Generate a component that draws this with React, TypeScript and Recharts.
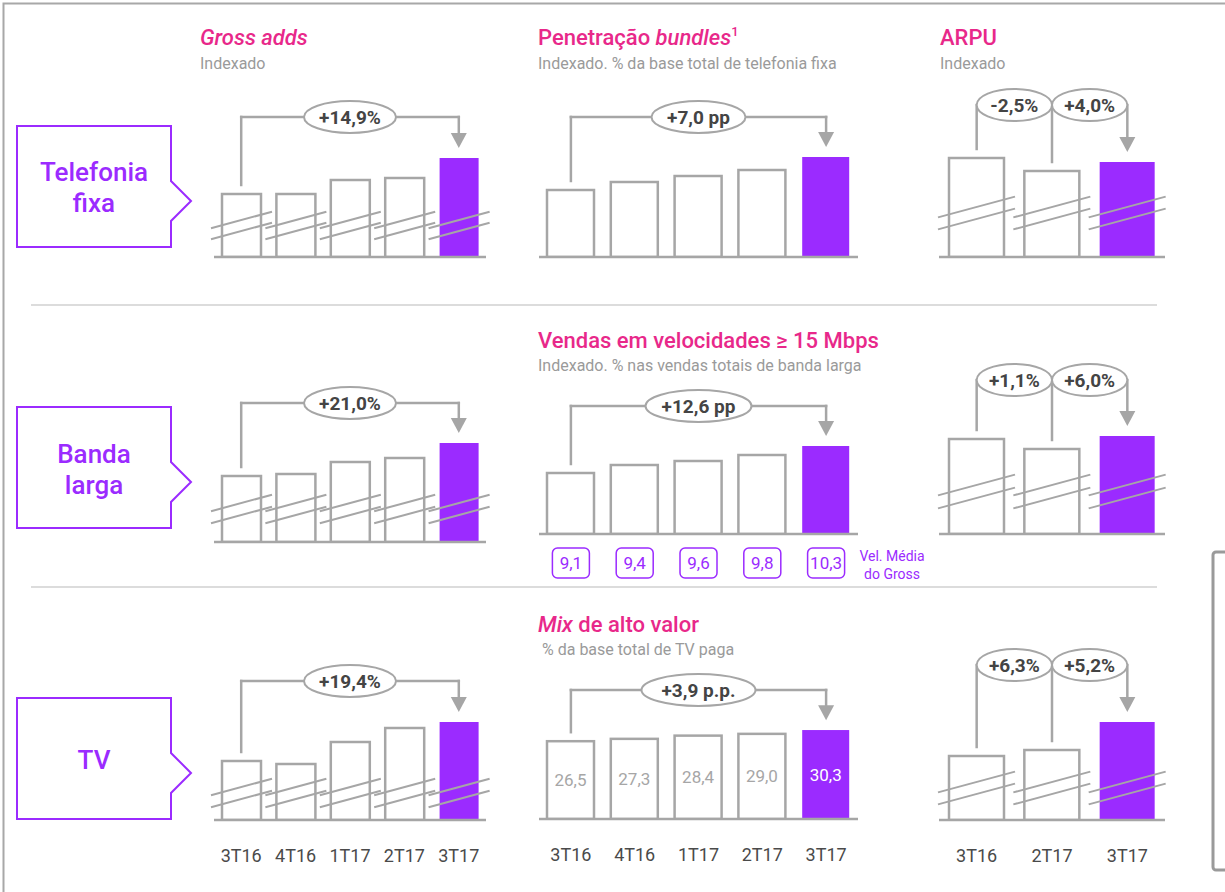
import React from "react";
import {
  BarChart,
  Bar,
  XAxis,
  YAxis,
  ReferenceLine,
  ReferenceDot,
  LabelList,
} from "recharts";

const PURPLE = "#9b2bff";
const PINK = "#e8288a";
const LINE_GRAY = "#a6a6a6";
const SUB_GRAY = "#9a9a9a";
const TEXT_DARK = "#444444";
const FONT = "Roboto, 'Noto Sans', sans-serif";

// categories
const quarters5 = ["3T16", "4T16", "1T17", "2T17", "3T17"];
const quarters3 = ["3T16", "2T17", "3T17"];

// Telefonia fixa (indexed heights)
const grossAddsFixa = [63, 63, 77, 79, 99];
const bundlesFixa = [67, 75, 81, 87, 100];
const arpuFixa = [99, 86, 95];

// Banda larga
const grossAddsBanda = [66, 68, 80, 84, 99];
const vendas15Mbps = [61, 69, 73, 79, 88];
const velMediaGross = [9.1, 9.4, 9.6, 9.8, 10.3];
const arpuBanda = [95, 85, 98];

// TV
const grossAddsTv = [59, 56, 78, 92, 98];
const mixAltoValor = [26.5, 27.3, 28.4, 29.0, 30.3];
const arpuTv = [64, 70, 98];

// variation labels
const grossAddsFixaDelta = ["+14,9%"];
const bundlesFixaDelta = ["+7,0 pp"];
const arpuFixaDeltas = ["-2,5%", "+4,0%"];
const grossAddsBandaDelta = ["+21,0%"];
const vendas15MbpsDelta = ["+12,6 pp"];
const arpuBandaDeltas = ["+1,1%", "+6,0%"];
const grossAddsTvDelta = ["+19,4%"];
const mixAltoValorDelta = ["+3,9 p.p."];
const arpuTvDeltas = ["+6,3%", "+5,2%"];

const PLOT_H = 160;
const MT = 25;
const MX = 15;

const fmt = (v: number) => v.toFixed(1).replace(".", ",");

type Cfg = {
  x0: number;
  x1: number;
  yb: number;
  barSize: number;
  cats: string[];
  values: number[];
  yMax: number;
  level: number;
  marks: number[] | null;
  kind: "span" | "steps";
  labels: string[];
  rx: number;
  ticks?: "quarters" | "speed";
  inner?: boolean;
};

const BrokenBar = (p: any) => {
  const { x, y, width, height, isLast, marks } = p;
  const base = y + height;
  return (
    <g>
      <rect
        x={x}
        y={y}
        width={width}
        height={height}
        fill={isLast ? PURPLE : "#fff"}
        stroke={isLast ? "none" : LINE_GRAY}
        strokeWidth={2.5}
      />
      {marks &&
        marks.map((off: number, i: number) => {
          const xa = x - 11;
          const xb = x + width + 11;
          const rise = ((xb - xa) * 0.27) / 2;
          const yc = base - off;
          return (
            <line
              key={i}
              x1={xa}
              y1={yc + rise}
              x2={xb}
              y2={yc - rise}
              stroke={LINE_GRAY}
              strokeWidth={2}
            />
          );
        })}
    </g>
  );
};

// shift moves the bubble so that it sits between two categories
const bubble = (label: string, rx: number, shift: number) => (p: any) => (
  <g>
    <ellipse
      cx={p.cx + shift}
      cy={p.cy}
      rx={rx}
      ry={16}
      fill="#fff"
      stroke={LINE_GRAY}
      strokeWidth={2}
    />
    <text
      x={p.cx + shift}
      y={p.cy}
      dy={7}
      textAnchor="middle"
      fontSize={19}
      fontWeight={700}
      fill={TEXT_DARK}
      fontFamily={FONT}
    >
      {label}
    </text>
  </g>
);

const plainLine = (p: any) => (
  <line
    x1={p.x1}
    y1={p.y1}
    x2={p.x2}
    y2={p.y2}
    stroke={LINE_GRAY}
    strokeWidth={2.5}
    strokeLinecap="square"
  />
);

const gapLine = (rx: number) => (p: any) => {
  const mid = (p.x1 + p.x2) / 2;
  return (
    <g stroke={LINE_GRAY} strokeWidth={2.5} strokeLinecap="square">
      <line x1={p.x1} y1={p.y1} x2={mid - rx} y2={p.y1} />
      <line x1={mid + rx} y1={p.y1} x2={p.x2} y2={p.y1} />
    </g>
  );
};

const arrowLine = (p: any) => (
  <g>
    <line
      x1={p.x1}
      y1={p.y1}
      x2={p.x2}
      y2={p.y2 - 14}
      stroke={LINE_GRAY}
      strokeWidth={2.5}
      strokeLinecap="square"
    />
    <polygon
      points={`${p.x2 - 8},${p.y2 - 15} ${p.x2 + 8},${p.y2 - 15} ${p.x2},${p.y2}`}
      fill={LINE_GRAY}
    />
  </g>
);

const QuarterTick = (p: any) => (
  <text
    x={p.x}
    y={p.y}
    dy={34}
    textAnchor="middle"
    fontSize={18}
    fill="#4a4a4a"
    fontFamily={FONT}
  >
    {p.payload.value}
  </text>
);

const SpeedTick = (p: any) => {
  const i = quarters5.indexOf(p.payload.value);
  return (
    <g>
      <rect
        x={p.x - 18.5}
        y={p.y + 6}
        width={37}
        height={30}
        rx={5}
        fill="#fff"
        stroke={PURPLE}
        strokeWidth={1.5}
      />
      <text
        x={p.x}
        y={p.y + 27}
        textAnchor="middle"
        fontSize={17}
        fill={PURPLE}
        fontFamily={FONT}
      >
        {fmt(velMediaGross[i])}
      </text>
    </g>
  );
};

const InnerLabel = (p: any) => {
  const isLast = p.value === mixAltoValor[mixAltoValor.length - 1];
  return (
    <text
      x={p.x + p.width / 2}
      y={p.y + p.height / 2}
      dy={6}
      textAnchor="middle"
      fontSize={17}
      fill={isLast ? "#fff" : LINE_GRAY}
      fontFamily={FONT}
    >
      {fmt(p.value)}
    </text>
  );
};

const MiniChart = ({ cfg }: { cfg: Cfg }) => {
  const { x0, x1, yb, barSize, cats, values, yMax } = cfg;
  const n = cats.length;
  const last = n - 1;
  const k = yMax / PLOT_H;
  const level = cfg.level * k;
  const gap = 9 * k;
  const data = cats.map((q, i) => ({ q, v: values[i] }));
  const axisH = cfg.ticks ? 50 : 4;
  const width = x1 - x0 + 2 * MX;
  const height = MT + PLOT_H + axisH;

  const refs: React.ReactNode[] = [];
  if (cfg.kind === "span") {
    refs.push(
      <ReferenceLine
        key="l0"
        segment={[{ x: cats[0], y: values[0] + gap }, { x: cats[0], y: level }]}
        shape={plainLine}
      />,
      <ReferenceLine
        key="h"
        segment={[{ x: cats[0], y: level }, { x: cats[last], y: level }]}
        shape={gapLine(cfg.rx)}
      />,
      <ReferenceDot
        key="d"
        x={cats[last / 2]}
        y={level}
        shape={bubble(cfg.labels[0], cfg.rx, 0)}
      />
    );
  } else {
    // bubble spans half a category band each side of the gap between bars
    const half = (x1 - x0) / n / 2;
    for (let i = 0; i < last; i++) {
      refs.push(
        <ReferenceLine
          key={`l${i}`}
          segment={[{ x: cats[i], y: values[i] + gap }, { x: cats[i], y: level }]}
          shape={plainLine}
        />,
        <ReferenceDot
          key={`d${i}`}
          x={cats[i]}
          y={level}
          shape={bubble(cfg.labels[i], half, half)}
        />
      );
    }
  }
  refs.push(
    <ReferenceLine
      key="a"
      segment={[{ x: cats[last], y: level }, { x: cats[last], y: values[last] + gap * 1.1 }]}
      shape={arrowLine}
    />
  );

  return (
    <div style={{ position: "absolute", left: x0 - MX, top: yb - PLOT_H - MT }}>
      <BarChart
        width={width}
        height={height}
        data={data}
        margin={{ top: MT, right: MX, bottom: 0, left: MX }}
      >
        <XAxis
          dataKey="q"
          height={axisH}
          axisLine={{ stroke: LINE_GRAY, strokeWidth: 2.5 }}
          tickLine={false}
          interval={0}
          tick={
            cfg.ticks === "quarters" ? QuarterTick : cfg.ticks === "speed" ? SpeedTick : false
          }
        />
        <YAxis hide domain={[0, yMax]} allowDataOverflow />
        <Bar
          dataKey="v"
          barSize={barSize}
          isAnimationActive={false}
          shape={(p: any) => (
            <BrokenBar
              {...p}
              isLast={p.index === last || (p.payload && p.payload.q === cats[last])}
              marks={cfg.marks}
            />
          )}
        >
          {cfg.inner && <LabelList dataKey="v" content={InnerLabel} />}
        </Bar>
        {refs}
      </BarChart>
    </div>
  );
};

const charts: Cfg[] = [
  { x0: 214, x1: 486, yb: 257, barSize: 39, cats: quarters5, values: grossAddsFixa, yMax: PLOT_H, level: 140, marks: [37, 26], kind: "span", labels: grossAddsFixaDelta, rx: 46 },
  { x0: 539, x1: 858, yb: 257, barSize: 47, cats: quarters5, values: bundlesFixa, yMax: PLOT_H, level: 140, marks: null, kind: "span", labels: bundlesFixaDelta, rx: 47 },
  { x0: 939, x1: 1165, yb: 257, barSize: 55, cats: quarters3, values: arpuFixa, yMax: PLOT_H, level: 152, marks: [50, 38], kind: "steps", labels: arpuFixaDeltas, rx: 37 },
  { x0: 214, x1: 486, yb: 542, barSize: 39, cats: quarters5, values: grossAddsBanda, yMax: PLOT_H, level: 139, marks: [39, 27], kind: "span", labels: grossAddsBandaDelta, rx: 46 },
  { x0: 539, x1: 858, yb: 534, barSize: 47, cats: quarters5, values: vendas15Mbps, yMax: PLOT_H, level: 128, marks: null, kind: "span", labels: vendas15MbpsDelta, rx: 53, ticks: "speed" },
  { x0: 939, x1: 1165, yb: 534, barSize: 55, cats: quarters3, values: arpuBanda, yMax: PLOT_H, level: 154, marks: [49, 36], kind: "steps", labels: arpuBandaDeltas, rx: 37 },
  { x0: 214, x1: 486, yb: 820, barSize: 39, cats: quarters5, values: grossAddsTv, yMax: PLOT_H, level: 139, marks: [33, 21], kind: "span", labels: grossAddsTvDelta, rx: 46, ticks: "quarters" },
  { x0: 539, x1: 858, yb: 819, barSize: 47, cats: quarters5, values: mixAltoValor, yMax: 54.5, level: 129, marks: null, kind: "span", labels: mixAltoValorDelta, rx: 57, ticks: "quarters", inner: true },
  { x0: 939, x1: 1165, yb: 820, barSize: 55, cats: quarters3, values: arpuTv, yMax: PLOT_H, level: 155, marks: [38, 26], kind: "steps", labels: arpuTvDeltas, rx: 37, ticks: "quarters" },
];

const Title = ({ x, y, children }: { x: number; y: number; children: React.ReactNode }) => (
  <text x={x} y={y} fontSize={22} fontWeight={500} fill={PINK} fontFamily={FONT}>
    {children}
  </text>
);

const Sub = ({ x, y, children }: { x: number; y: number; children: React.ReactNode }) => (
  <text x={x} y={y} fontSize={16} fill={SUB_GRAY} fontFamily={FONT}>
    {children}
  </text>
);

const SideLabel = ({ top, lines, baselines }: { top: number; lines: string[]; baselines: number[] }) => (
  <g>
    <path
      d={`M17,${top} H171 V${top + 55} L191,${top + 75} L171,${top + 95} V${top + 121} H17 Z`}
      fill="#fff"
      stroke={PURPLE}
      strokeWidth={2}
    />
    {lines.map((t, i) => (
      <text
        key={t}
        x={94}
        y={baselines[i]}
        textAnchor="middle"
        fontSize={26}
        fontWeight={500}
        fill={PURPLE}
        fontFamily={FONT}
      >
        {t}
      </text>
    ))}
  </g>
);

export default function App() {
  return (
    <div
      style={{
        position: "absolute",
        left: 0,
        top: 0,
        width: 1225,
        height: 892,
        background: "#fff",
        overflow: "hidden",
      }}
    >
      <svg width={1225} height={892} style={{ position: "absolute", left: 0, top: 0 }}>
        <path d="M3.5,892 V3.5 H1225" fill="none" stroke="#a8a8a8" strokeWidth={2} />
        <line x1={31} y1={305} x2={1157} y2={305} stroke="#dcdcdc" strokeWidth={2} />
        <line x1={31} y1={587} x2={1157} y2={587} stroke="#dcdcdc" strokeWidth={2} />
        <rect x={1213} y={552} width={40} height={318} rx={3} fill="none" stroke="#9a9a9a" strokeWidth={3} />

        <SideLabel top={126} lines={["Telefonia", "fixa"]} baselines={[181, 212]} />
        <SideLabel top={407} lines={["Banda", "larga"]} baselines={[463, 494]} />
        <SideLabel top={698} lines={["TV"]} baselines={[769]} />

        <Title x={200} y={45}>
          <tspan fontStyle="italic">Gross adds</tspan>
        </Title>
        <Sub x={200} y={69}>Indexado</Sub>
        <Title x={538} y={45}>
          Penetração <tspan fontStyle="italic">bundles</tspan>
          <tspan fontSize={13} dy={-9}>1</tspan>
        </Title>
        <Sub x={538} y={69}>Indexado. % da base total de telefonia fixa</Sub>
        <Title x={940} y={45}>ARPU</Title>
        <Sub x={940} y={69}>Indexado</Sub>

        <Title x={538} y={348}>Vendas em velocidades ≥ 15 Mbps</Title>
        <Sub x={538} y={371}>Indexado. % nas vendas totais de banda larga</Sub>
        <text x={892} y={561} textAnchor="middle" fontSize={14} fill={PURPLE} fontFamily={FONT}>
          Vel. Média
        </text>
        <text x={892} y={579} textAnchor="middle" fontSize={14} fill={PURPLE} fontFamily={FONT}>
          do Gross
        </text>

        <Title x={538} y={632}>
          <tspan fontStyle="italic">Mix</tspan> de alto valor
        </Title>
        <Sub x={542} y={655}>% da base total de TV paga</Sub>
      </svg>
      {charts.map((c, i) => (
        <MiniChart key={i} cfg={c} />
      ))}
    </div>
  );
}
